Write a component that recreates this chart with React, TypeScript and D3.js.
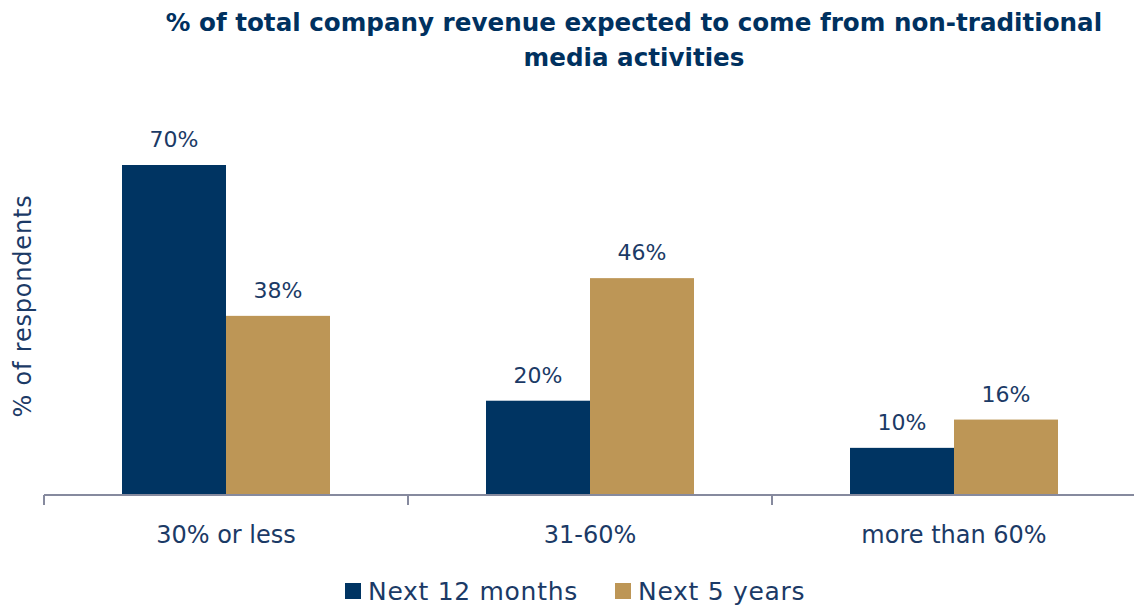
import React from 'react'
import * as d3 from 'd3'

const categories = ['30% or less', '31-60%', 'more than 60%']
const seriesNames = ['Next 12 months', 'Next 5 years']
const next12Months = [70, 20, 10]
const next5Years = [38, 46, 16]
const colors = ['#003462', '#BD9656']

const W = 1134
const H = 605
const FONT = "'DejaVu Sans', sans-serif"
const TEXT = '#1B3A66'

export default function App() {
    const margin = { left: 44, right: -2, top: 165, bottom: 110 }
    const x = d3.scaleBand<string>()
        .domain(categories)
        .range([margin.left, W - margin.right])
        .paddingInner(0)
        .paddingOuter(0)
    // two bars side by side in the middle of each category band
    const inner = d3.scaleBand<string>()
        .domain(seriesNames)
        .range([0, x.bandwidth()])
        .paddingOuter(0.75)
        .paddingInner(0)
    const y = d3.scaleLinear().domain([0, 70]).range([H - margin.bottom, margin.top])

    const series = [next12Months, next5Years]
    const baseY = y(0)

    return (
        <svg width={W} height={H} style={{ position: 'absolute', left: 0, top: 0 }}>
            <rect width={W} height={H} fill="#fff" />
            <text x={634} y={31} textAnchor="middle" fill="#00315F" fontFamily={FONT}
                fontWeight="bold" fontSize={24.6}>
                % of total company revenue expected to come from non-traditional
            </text>
            <text x={634} y={66} textAnchor="middle" fill="#00315F" fontFamily={FONT}
                fontWeight="bold" fontSize={24.6}>
                media activities
            </text>

            <text transform={`translate(31, 306) rotate(-90)`} textAnchor="middle" fill={TEXT}
                fontFamily={FONT} fontSize={24} letterSpacing={0.8}>% of respondents</text>

            {categories.map((c, ci) => (
                <g key={c}>
                    {series.map((vals, si) => {
                        const bx = (x(c) as number) + (inner(seriesNames[si]) as number)
                        const by = y(vals[ci])
                        return (
                            <g key={si}>
                                <rect x={bx} y={by} width={inner.bandwidth()} height={baseY - by}
                                    fill={colors[si]} />
                                <text x={bx + inner.bandwidth() / 2} y={by - 18} textAnchor="middle"
                                    fill={TEXT} fontFamily={FONT} fontSize={22}>
                                    {vals[ci]}%
                                </text>
                            </g>
                        )
                    })}
                    <text x={(x(c) as number) + x.bandwidth() / 2} y={543} textAnchor="middle"
                        fill={TEXT} fontFamily={FONT} fontSize={24}>{c}</text>
                </g>
            ))}

            <line x1={margin.left} x2={W} y1={baseY} y2={baseY} stroke="#868A9E" strokeWidth={2} />
            {categories.map(c => (
                <line key={c} x1={x(c)} x2={x(c)} y1={baseY} y2={baseY + 10}
                    stroke="#868A9E" strokeWidth={2} />
            ))}

            {seriesNames.map((s, i) => {
                const lx = [345, 615][i]
                return (
                    <g key={s}>
                        <rect x={lx} y={583} width={16} height={16} fill={colors[i]} />
                        <text x={lx + 23} y={600} fill={TEXT} fontFamily={FONT} fontSize={25}
                            letterSpacing={0.7}>{s}</text>
                    </g>
                )
            })}
        </svg>
    )
}
